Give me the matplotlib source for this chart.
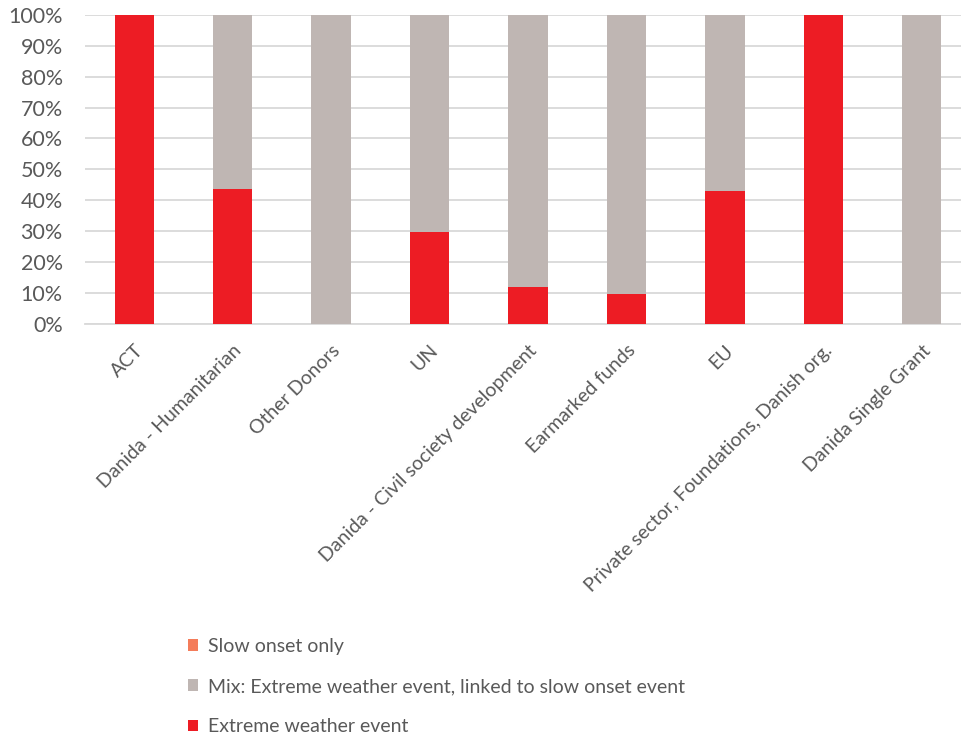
import matplotlib.pyplot as plt
import numpy as np

# Funding sources and share of each event type (fractions)
categories = [
    'ACT',
    'Danida - Humanitarian',
    'Other Donors',
    'UN',
    'Danida - Civil society development',
    'Earmarked funds',
    'EU',
    'Private sector, Foundations, Danish org.',
    'Danida Single Grant',
]
extreme = [1.00, 0.437, 0.0, 0.297, 0.117, 0.095, 0.431, 1.00, 0.0]
mix = [0.0, 0.563, 1.00, 0.703, 0.883, 0.905, 0.569, 0.0, 1.00]
slow_onset = [0.0, 0.0, 0.0, 0.0, 0.0, 0.0, 0.0, 0.0, 0.0]

labels = ['Slow onset only',
          'Mix: Extreme weather event, linked to slow onset event',
          'Extreme weather event']
colors = ['#F47C5A', '#BFB6B3', '#ED1C24']
text_color = '#595959'

plt.rcParams['font.family'] = ['Lato', 'DejaVu Sans']

fig = plt.figure(figsize=(9.61, 7.42), dpi=100)
ax = fig.add_axes([85/961, 0.564, 886/961, 0.4158])

x = np.arange(len(categories))
w = 0.4
bottom_mix = np.array(extreme)
bottom_slow = bottom_mix + np.array(mix)

b_ext = ax.bar(x, extreme, w, color=colors[2], label=labels[2], zorder=3)
b_mix = ax.bar(x, mix, w, bottom=bottom_mix, color=colors[1], label=labels[1], zorder=3)
b_slow = ax.bar(x, slow_onset, w, bottom=bottom_slow, color=colors[0], label=labels[0], zorder=3)

ax.set_xlim(-0.5, 8.5)
ax.set_ylim(0, 1)
ax.set_yticks(np.arange(0, 1.01, 0.1))
ax.set_yticklabels([f'{int(round(v*100))}%' for v in np.arange(0, 1.01, 0.1)])
ax.yaxis.grid(True, color='#D9D9D9', linewidth=1.3, zorder=0)
ax.set_axisbelow(True)

for s in ['top', 'right', 'left']:
    ax.spines[s].set_visible(False)
ax.spines['bottom'].set_color('#D9D9D9')
ax.spines['bottom'].set_linewidth(1.3)
ax.tick_params(axis='both', length=0, colors=text_color)
ax.tick_params(axis='y', labelsize=15.5, pad=16)

ax.set_xticks(x)
ax.set_xticklabels(categories, rotation=45, ha='right', rotation_mode='anchor',
                   fontsize=14, color=text_color)
ax.tick_params(axis='x', pad=13)

leg = fig.legend(handles=[b_slow, b_mix, b_ext], labels=labels,
                 loc='upper left', bbox_to_anchor=(180/961, 1 - 630/742),
                 frameon=False, fontsize=14, labelcolor=text_color,
                 handlelength=0.55, handleheight=0.55, handletextpad=0.5,
                 labelspacing=1.2, borderaxespad=0)

fig.savefig('out.png', dpi=100)
